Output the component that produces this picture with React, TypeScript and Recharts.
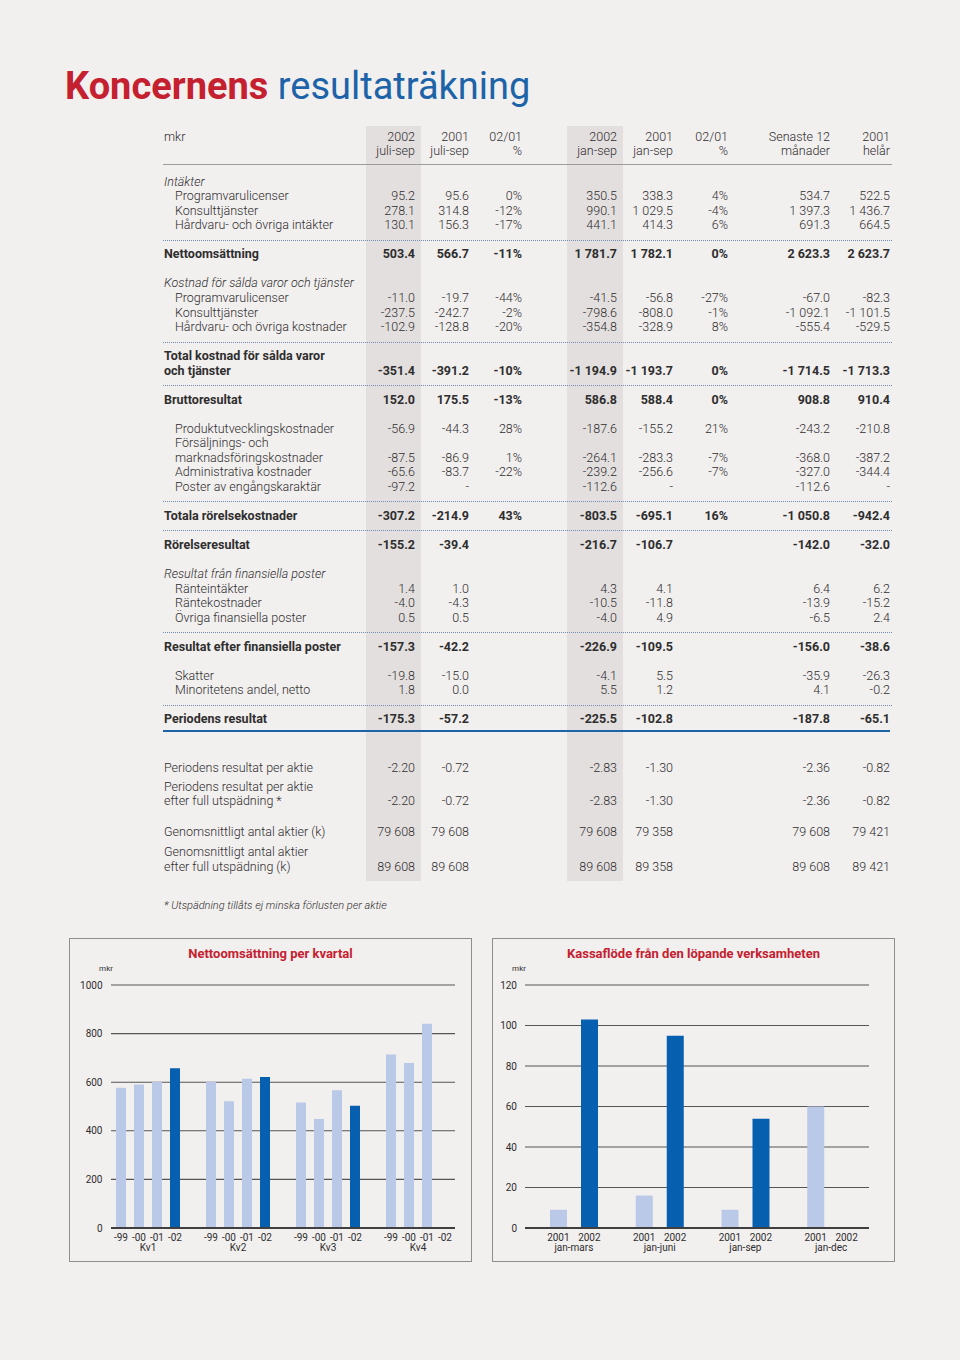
import React from 'react';
import { BarChart, Bar, XAxis, YAxis, CartesianGrid, ReferenceLine } from 'recharts';

// Nettoomsättning per kvartal (mkr)
const QUARTERS = ['Kv1', 'Kv2', 'Kv3', 'Kv4'];
const YEAR_TAGS = ['-99', '-00', '-01', '-02'];
const SALES_99 = [577, 602, 516, 714];
const SALES_00 = [591, 522, 449, 679];
const SALES_01 = [601, 614, 567, 841];
const SALES_02 = [657, 621, 503, null];
const SALES_TICKS = [0, 200, 400, 600, 800, 1000];

// Kassaflöde från den löpande verksamheten (mkr)
const PERIODS = ['jan-mars', 'jan-juni', 'jan-sep', 'jan-dec'];
const CF_YEARS = ['2001', '2002'];
const CASHFLOW_2001 = [9, 16, 9, 60];
const CASHFLOW_2002 = [103, 95, 54, null];
const CF_TICKS = [0, 20, 40, 60, 80, 100, 120];

const HEAD_TOP = ['2002', '2001', '02/01', '2002', '2001', '02/01', 'Senaste 12', '2001'];
const HEAD_SUB = ['juli-sep', 'juli-sep', '%', 'jan-sep', 'jan-sep', '%', 'månader', 'helår'];

type Row = { k: 'sub' | 'item' | 'plain' | 'total' | 'dots' | 'gap'; label?: string; v?: string[] };

const ROWS: Row[] = [
  { k: 'sub', label: 'Intäkter' },
  { k: 'item', label: 'Programvarulicenser', v: ['95.2', '95.6', '0%', '350.5', '338.3', '4%', '534.7', '522.5'] },
  { k: 'item', label: 'Konsulttjänster', v: ['278.1', '314.8', '-12%', '990.1', '1 029.5', '-4%', '1 397.3', '1 436.7'] },
  { k: 'item', label: 'Hårdvaru- och övriga intäkter', v: ['130.1', '156.3', '-17%', '441.1', '414.3', '6%', '691.3', '664.5'] },
  { k: 'dots' },
  { k: 'total', label: 'Nettoomsättning', v: ['503.4', '566.7', '-11%', '1 781.7', '1 782.1', '0%', '2 623.3', '2 623.7'] },
  { k: 'gap' },
  { k: 'sub', label: 'Kostnad för sålda varor och tjänster' },
  { k: 'item', label: 'Programvarulicenser', v: ['-11.0', '-19.7', '-44%', '-41.5', '-56.8', '-27%', '-67.0', '-82.3'] },
  { k: 'item', label: 'Konsulttjänster', v: ['-237.5', '-242.7', '-2%', '-798.6', '-808.0', '-1%', '-1 092.1', '-1 101.5'] },
  { k: 'item', label: 'Hårdvaru- och övriga kostnader', v: ['-102.9', '-128.8', '-20%', '-354.8', '-328.9', '8%', '-555.4', '-529.5'] },
  { k: 'dots' },
  { k: 'total', label: 'Total kostnad för sålda varor' },
  { k: 'total', label: 'och tjänster', v: ['-351.4', '-391.2', '-10%', '-1 194.9', '-1 193.7', '0%', '-1 714.5', '-1 713.3'] },
  { k: 'dots' },
  { k: 'total', label: 'Bruttoresultat', v: ['152.0', '175.5', '-13%', '586.8', '588.4', '0%', '908.8', '910.4'] },
  { k: 'gap' },
  { k: 'item', label: 'Produktutvecklingskostnader', v: ['-56.9', '-44.3', '28%', '-187.6', '-155.2', '21%', '-243.2', '-210.8'] },
  { k: 'item', label: 'Försäljnings- och' },
  { k: 'item', label: 'marknadsföringskostnader', v: ['-87.5', '-86.9', '1%', '-264.1', '-283.3', '-7%', '-368.0', '-387.2'] },
  { k: 'item', label: 'Administrativa kostnader', v: ['-65.6', '-83.7', '-22%', '-239.2', '-256.6', '-7%', '-327.0', '-344.4'] },
  { k: 'item', label: 'Poster av engångskaraktär', v: ['-97.2', '-', '', '-112.6', '-', '', '-112.6', '-'] },
  { k: 'dots' },
  { k: 'total', label: 'Totala rörelsekostnader', v: ['-307.2', '-214.9', '43%', '-803.5', '-695.1', '16%', '-1 050.8', '-942.4'] },
  { k: 'dots' },
  { k: 'total', label: 'Rörelseresultat', v: ['-155.2', '-39.4', '', '-216.7', '-106.7', '', '-142.0', '-32.0'] },
  { k: 'gap' },
  { k: 'sub', label: 'Resultat från finansiella poster' },
  { k: 'item', label: 'Ränteintäkter', v: ['1.4', '1.0', '', '4.3', '4.1', '', '6.4', '6.2'] },
  { k: 'item', label: 'Räntekostnader', v: ['-4.0', '-4.3', '', '-10.5', '-11.8', '', '-13.9', '-15.2'] },
  { k: 'item', label: 'Övriga finansiella poster', v: ['0.5', '0.5', '', '-4.0', '4.9', '', '-6.5', '2.4'] },
  { k: 'dots' },
  { k: 'total', label: 'Resultat efter finansiella poster', v: ['-157.3', '-42.2', '', '-226.9', '-109.5', '', '-156.0', '-38.6'] },
  { k: 'gap' },
  { k: 'item', label: 'Skatter', v: ['-19.8', '-15.0', '', '-4.1', '5.5', '', '-35.9', '-26.3'] },
  { k: 'item', label: 'Minoritetens andel, netto', v: ['1.8', '0.0', '', '5.5', '1.2', '', '4.1', '-0.2'] },
  { k: 'dots' },
  { k: 'total', label: 'Periodens resultat', v: ['-175.3', '-57.2', '', '-225.5', '-102.8', '', '-187.8', '-65.1'] },
];

const PER_SHARE: Row[][] = [
  [{ k: 'plain', label: 'Periodens resultat per aktie', v: ['-2.20', '-0.72', '', '-2.83', '-1.30', '', '-2.36', '-0.82'] }],
  [
    { k: 'plain', label: 'Periodens resultat per aktie' },
    { k: 'plain', label: 'efter full utspädning *', v: ['-2.20', '-0.72', '', '-2.83', '-1.30', '', '-2.36', '-0.82'] },
  ],
  [{ k: 'plain', label: 'Genomsnittligt antal aktier (k)', v: ['79 608', '79 608', '', '79 608', '79 358', '', '79 608', '79 421'] }],
  [
    { k: 'plain', label: 'Genomsnittligt antal aktier' },
    { k: 'plain', label: 'efter full utspädning (k)', v: ['89 608', '89 608', '', '89 608', '89 358', '', '89 608', '89 421'] },
  ],
];

const FONT = 'Roboto, "Open Sans", sans-serif';
const RED = '#c5202f';
const BLUE = '#1c63a8';
const LIGHT = '#b9c9e7';
const DARK = '#075fb0';
const GRID = '#555555';
const TEXT = '#2e2e2e';
const RH = 14.54;
const COL_EDGES = [415, 469, 522, 617, 673, 728, 830, 890];

const salesData = QUARTERS.map((q, i) => ({ q, y99: SALES_99[i], y00: SALES_00[i], y01: SALES_01[i], y02: SALES_02[i] }));
const cfData = PERIODS.map((p, i) => ({ p, c01: CASHFLOW_2001[i], c02: CASHFLOW_2002[i] }));

function Values({ v, bold }: { v?: string[]; bold?: boolean }) {
  if (!v) return null;
  return (
    <>
      {v.map((s, i) => (
        <span
          key={i}
          style={{ position: 'absolute', left: COL_EDGES[i] - 80, width: 80, textAlign: 'right', fontWeight: bold ? 700 : 300 }}
        >
          {s}
        </span>
      ))}
    </>
  );
}

function TableLine({ row }: { row: Row }) {
  const base: React.CSSProperties = { position: 'relative', height: RH, lineHeight: `${RH}px`, whiteSpace: 'nowrap' };
  if (row.k === 'gap') return <div style={base} />;
  if (row.k === 'dots')
    return (
      <div style={base}>
        <div style={{ position: 'absolute', left: 163, width: 729, top: 7, borderTop: '1px dotted #6f8bb8' }} />
      </div>
    );
  const bold = row.k === 'total';
  return (
    <div style={base}>
      <span
        style={{
          position: 'absolute',
          left: row.k === 'item' ? 175 : 164,
          fontStyle: row.k === 'sub' ? 'italic' : 'normal',
          fontWeight: bold ? 700 : 300,
        }}
      >
        {row.label}
      </span>
      <Values v={row.v} bold={bold} />
    </div>
  );
}

const insetGrid = (dl: number, dr: number) => (p: any) => (
  <line key={`g-${p.index}-${p.y1}`} x1={p.x1 + dl} x2={p.x2 - dr} y1={p.y1} y2={p.y2} stroke={GRID} strokeWidth={1.1} />
);

const insetBase = (dl: number, dr: number) => (p: any) => (
  <line x1={p.x1 + dl} x2={p.x2 - dr} y1={p.y1} y2={p.y2} stroke="#3f3f3f" strokeWidth={2} />
);

const yTick = (dx: number) => (p: any) => (
  <text x={p.x + dx} y={p.y} dy={3.6} textAnchor="end" fontSize={10} fill={TEXT} fontFamily={FONT}>
    {p.payload.value}
  </text>
);

const QuarterTick = (p: any) => (
  <g>
    {YEAR_TAGS.map((t, i) => (
      <text key={t} x={p.x + (i - 1.5) * 18} y={p.y + 11} textAnchor="middle" fontSize={10} fill={TEXT} fontFamily={FONT}>
        {t}
      </text>
    ))}
    <text x={p.x} y={p.y + 21} textAnchor="middle" fontSize={10} fill={TEXT} fontFamily={FONT}>
      {p.payload.value}
    </text>
  </g>
);

const PeriodTick = (p: any) => (
  <g>
    {CF_YEARS.map((t, i) => (
      <text key={t} x={p.x + (i - 0.5) * 31} y={p.y + 11} textAnchor="middle" fontSize={10} fill={TEXT} fontFamily={FONT}>
        {t}
      </text>
    ))}
    <text x={p.x} y={p.y + 21} textAnchor="middle" fontSize={10} fill={TEXT} fontFamily={FONT}>
      {p.payload.value}
    </text>
  </g>
);

function ChartBox({ left, title, children }: { left: number; title: string; children: React.ReactNode }) {
  return (
    <>
      <div
        style={{
          position: 'absolute',
          left,
          top: 938,
          width: 403,
          height: 324,
          boxSizing: 'border-box',
          border: '1.5px solid #8e8e8e',
        }}
      />
      <div
        style={{
          position: 'absolute',
          left,
          top: 946,
          width: 403,
          textAlign: 'center',
          color: RED,
          fontWeight: 700,
          fontSize: 13,
          lineHeight: '16px',
        }}
      >
        {title}
      </div>
      <div style={{ position: 'absolute', left, top: 938, width: 403, height: 324 }}>{children}</div>
    </>
  );
}

export default function App() {
  return (
    <div
      style={{
        position: 'absolute',
        left: 0,
        top: 0,
        width: 960,
        height: 1360,
        background: '#f2efef',
        overflow: 'hidden',
        fontFamily: FONT,
        fontSize: 12.5,
        color: TEXT,
      }}
    >
      {/* shaded current-period columns */}
      <div style={{ position: 'absolute', left: 366, top: 126, width: 55, height: 755, background: '#e4dfdf' }} />
      <div style={{ position: 'absolute', left: 567, top: 126, width: 56, height: 755, background: '#e4dfdf' }} />

      <div style={{ position: 'absolute', left: 65, top: 66, fontSize: 38, lineHeight: '40px', whiteSpace: 'nowrap' }}>
        <span style={{ color: RED, fontWeight: 700 }}>Koncernens</span>{' '}
        <span style={{ color: BLUE, fontWeight: 400 }}>resultaträkning</span>
      </div>

      {/* header */}
      <div style={{ position: 'absolute', left: 0, top: 129.7, width: 960 }}>
        <div style={{ position: 'relative', height: RH, lineHeight: `${RH}px`, whiteSpace: 'nowrap' }}>
          <span style={{ position: 'absolute', left: 164, fontWeight: 300 }}>mkr</span>
          <Values v={HEAD_TOP} />
        </div>
        <div style={{ position: 'relative', height: RH, lineHeight: `${RH}px`, whiteSpace: 'nowrap' }}>
          <Values v={HEAD_SUB} />
        </div>
      </div>
      <div style={{ position: 'absolute', left: 163, top: 164, width: 729, borderTop: '1px solid #9c9c9c' }} />

      <div style={{ position: 'absolute', left: 0, top: 182 - RH / 2, width: 960 }}>
        {ROWS.map((r, i) => (
          <TableLine key={i} row={r} />
        ))}
      </div>
      <div style={{ position: 'absolute', left: 163, top: 730, width: 727, borderTop: `2px solid ${BLUE}` }} />

      <div style={{ position: 'absolute', left: 0, top: 768 - RH / 2, width: 960 }}>
        {PER_SHARE.map((g, gi) => (
          <div key={gi} style={{ marginTop: [0, 4.5, 16.5, 5.5][gi] }}>
            {g.map((r, i) => (
              <TableLine key={i} row={r} />
            ))}
          </div>
        ))}
      </div>

      <div style={{ position: 'absolute', left: 164, top: 899, fontSize: 11, fontStyle: 'italic', fontWeight: 300 }}>
        * Utspädning tillåts ej minska förlusten per aktie
      </div>

      <ChartBox left={69} title="Nettoomsättning per kvartal">
        <div style={{ position: 'absolute', left: 20, top: 26, width: 34, textAlign: 'center', fontSize: 8 }}>mkr</div>
        <BarChart width={403} height={324} data={salesData} margin={{ top: 47, right: 9, bottom: 4, left: 0 }} barGap={8}>
          <CartesianGrid vertical={false} horizontal={insetGrid(8, 8)} />
          <XAxis dataKey="q" axisLine={false} tickLine={false} tickSize={0} height={30} interval={0} tick={QuarterTick} />
          <YAxis
            domain={[0, 1000]}
            ticks={SALES_TICKS}
            axisLine={false}
            tickLine={false}
            tickSize={0}
            width={34}
            interval={0}
            tick={yTick(1.5)}
          />
          <Bar dataKey="y99" fill={LIGHT} barSize={10} isAnimationActive={false} />
          <Bar dataKey="y00" fill={LIGHT} barSize={10} isAnimationActive={false} />
          <Bar dataKey="y01" fill={LIGHT} barSize={10} isAnimationActive={false} />
          <Bar dataKey="y02" fill={DARK} barSize={10} isAnimationActive={false} />
          <ReferenceLine y={0} shape={insetBase(8, 8)} />
        </BarChart>
      </ChartBox>

      <ChartBox left={492} title="Kassaflöde från den löpande verksamheten">
        <div style={{ position: 'absolute', left: 13, top: 26, width: 28, textAlign: 'center', fontSize: 8 }}>mkr</div>
        <BarChart width={403} height={324} data={cfData} margin={{ top: 47, right: 21, bottom: 4, left: 0 }} barGap={14}>
          <CartesianGrid vertical={false} horizontal={insetGrid(-6, 5)} />
          <XAxis dataKey="p" axisLine={false} tickLine={false} tickSize={0} height={30} interval={0} tick={PeriodTick} />
          <YAxis
            domain={[0, 120]}
            ticks={CF_TICKS}
            axisLine={false}
            tickLine={false}
            tickSize={0}
            width={39}
            interval={0}
            tick={yTick(-12)}
          />
          <Bar dataKey="c01" fill={LIGHT} barSize={17} isAnimationActive={false} />
          <Bar dataKey="c02" fill={DARK} barSize={17} isAnimationActive={false} />
          <ReferenceLine y={0} shape={insetBase(-6, 5)} />
        </BarChart>
      </ChartBox>
    </div>
  );
}
